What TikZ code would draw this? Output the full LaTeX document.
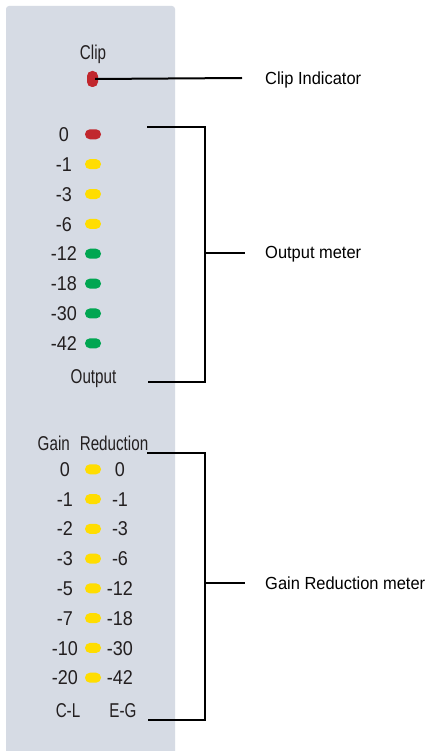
\documentclass[tikz,border=0pt]{standalone}
\usepackage{fontspec}
\setmainfont{Liberation Sans}
\newfontfamily\condfont[FakeStretch=0.76]{Liberation Sans}
\newfontfamily\numfont[FakeStretch=0.9]{Liberation Sans}
\newfontfamily\annotfont[FakeStretch=0.94]{Liberation Sans}
\definecolor{panelgray}{HTML}{D6DBE4}
\definecolor{ledred}{HTML}{C1272D}
\definecolor{ledyellow}{HTML}{FFDD00}
\definecolor{ledgreen}{HTML}{00A651}
\definecolor{inkdark}{HTML}{231F20}
\tikzset{
  paneltext/.style={inner sep=0pt, text height=14.3pt, text depth=0pt, text=inkdark, font=\condfont\fontsize{20}{20}\selectfont},
  numtext/.style={inner sep=0pt, text height=14.3pt, text depth=0pt, text=inkdark, font=\numfont\fontsize{20}{20}\selectfont},
  annot/.style={inner sep=0pt, anchor=west, text height=12.5pt, text depth=0pt, font=\annotfont\fontsize{17.5}{17.5}\selectfont},
  ledh/.style={draw=none, fill=#1, rounded corners=4.9pt, minimum width=16pt, minimum height=10pt, inner sep=0pt},
  ledv/.style={draw=none, fill=#1, rounded corners=5pt, minimum width=11pt, minimum height=16pt, inner sep=0pt},
  brk/.style={line width=2pt, black},
}
\begin{document}
\begin{tikzpicture}[x=1pt,y=-1pt]
\useasboundingbox (0,0) rectangle (430,751);
\fill[white] (0,0) rectangle (430,751);
% panel
\fill[panelgray, rounded corners=3pt] (6,770) -- (6,6) -- (175,6) -- (175,770) -- cycle;

% clip
\node[paneltext] (cliplbl) at (93,52) {Clip};
\node[ledv=ledred] (clipled) at (92.5,79) {};
\node[annot] (clipind) at (265,78) {Clip Indicator};
\draw[line width=2pt] ([xshift=-3pt]clipled.east) -- ([xshift=-23pt]clipind.west);

% output meter
\foreach \lab/\col [count=\i from 0] in {0/ledred,-1/ledyellow,-3/ledyellow,-6/ledyellow,-12/ledgreen,-18/ledgreen,-30/ledgreen,-42/ledgreen}{
  \pgfmathsetmacro{\yy}{134.3+29.86*\i}
  \node[numtext] (onum\i) at (64,\yy) {\lab};
  \node[ledh=\col] (oled\i) at (93,\yy) {};
}
\node[paneltext] (outlbl) at (93.5,376.5) {Output};
\coordinate (otop) at (147,127);
\coordinate (obot) at (148,381.5);
\coordinate (ojoin) at (204.5,252.5);
\node[annot] (outmeter) at (265,252.5) {Output meter};
\draw[brk] (otop) -| (ojoin) |- (obot);
\draw[brk] (ojoin) -- ([xshift=-20pt]outmeter.west);

% gain reduction meter
\node[paneltext] (grlbl) at (93,443) {Gain\hspace{0.5em}Reduction};
\foreach \lab/\rab [count=\i from 0] in {0/0,-1/-1,-2/-3,-3/-6,-5/-12,-7/-18,-10/-30,-20/-42}{
  \pgfmathsetmacro{\yy}{469.3+29.77*\i}
  \node[numtext] (glnum\i) at (65,\yy) {\lab};
  \node[ledh=ledyellow] (gled\i) at (93,\yy) {};
  \node[numtext] (grnum\i) at (120,\yy) {\rab};
}
\node[paneltext] (cl) at (68,710) {C-L};
\node[paneltext] (eg) at (123,710) {E-G};
\coordinate (gtop) at (147,452.5);
\coordinate (gbot) at (148,720);
\coordinate (gjoin) at (204.5,583);
\node[annot] (grmeter) at (265,583) {Gain Reduction meter};
\draw[brk] (gtop) -| (gjoin) |- (gbot);
\draw[brk] (gjoin) -- ([xshift=-20pt]grmeter.west);
\end{tikzpicture}
\end{document}
